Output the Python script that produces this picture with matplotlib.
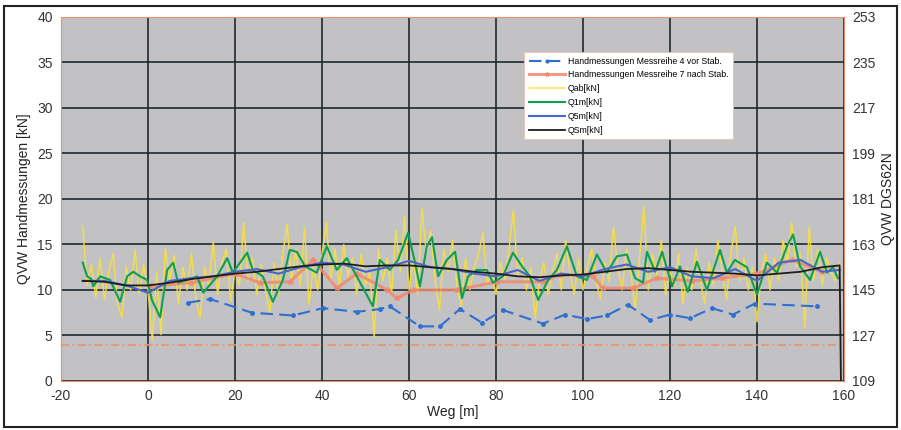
import numpy as np
import matplotlib.pyplot as plt
from matplotlib.patches import Rectangle

plt.rcParams["font.family"] = "Liberation Sans"
plt.rcParams["font.size"] = 10
plt.rcParams["axes.unicode_minus"] = False

# Handmessungen Messreihe 4 vor Stab.
hm4_x = [9.2, 14.3, 23.9, 33.3, 40.2, 48.0, 53.3, 55.6, 62.5, 67.1, 71.7, 76.8, 81.6,
         90.8, 95.9, 100.9, 105.5, 110.3, 115.4, 120.0, 124.6, 129.7, 134.5, 139.5, 153.8]
hm4_y = [8.6, 9.0, 7.5, 7.2, 8.0, 7.6, 7.9, 8.2, 6.0, 6.0, 7.9, 6.4, 7.8,
         6.3, 7.3, 6.8, 7.2, 8.4, 6.7, 7.3, 6.9, 8.0, 7.3, 8.5, 8.2]

# Handmessungen Messreihe 7 nach Stab.
hm7_x = [0.5, 10.0, 20.0, 25.7, 32.6, 38.0, 43.4, 48.0, 55.0, 57.2, 61.0, 71.0, 80.2,
         90.8, 94.7, 102.3, 104.6, 111.5, 117.0, 125.0, 132.0, 140.0, 148.0, 155.0]
hm7_y = [10.4, 10.8, 11.8, 10.8, 10.9, 13.3, 10.2, 11.8, 10.0, 9.1, 10.0, 10.0, 10.9,
         10.9, 11.7, 11.5, 10.2, 10.2, 11.3, 11.0, 11.3, 11.8, 13.3, 12.0]

# Grenzwert-Linie
grenz_x = [-20, 160]
grenz_y = [4.0, 4.0]

# Qab[kN], 1 m Raster ab -15 m
qab_x = np.arange(-15, 160, 1)
qab_y = [17.0, 10.5, 12.8, 9.2, 13.5, 9.0, 12.0, 14.0, 8.5, 7.0,
         12.5, 10.0, 14.4, 9.5, 12.8, 10.0, 4.5, 12.0, 5.1, 14.6,
         11.0, 13.8, 8.5, 12.5, 10.0, 14.0, 9.0, 6.9, 12.5, 10.5,
         15.3, 9.5, 13.0, 14.5, 8.8, 12.0, 10.5, 17.4, 11.0, 13.5,
         9.5, 12.8, 10.0, 7.5, 13.0, 9.5, 14.0, 17.2, 11.0, 14.5,
         10.5, 16.9, 8.4, 12.5, 10.0, 14.0, 17.5, 11.0, 14.5, 10.5,
         15.0, 11.5, 13.5, 9.5, 14.0, 10.5, 12.0, 4.8, 14.5, 11.0,
         13.5, 9.5, 16.6, 12.0, 18.1, 10.0, 13.5, 9.5, 19.0, 14.0,
         16.5, 11.0, 7.8, 14.5, 12.0, 15.5, 10.5, 8.0, 13.5, 10.0,
         12.5, 14.0, 16.3, 10.5, 12.0, 9.5, 13.0, 11.0, 14.5, 18.8,
         11.5, 13.5, 10.0, 12.5, 6.9, 11.0, 13.0, 9.5, 12.0, 14.0,
         10.0, 15.5, 12.0, 9.5, 13.5, 10.0, 12.5, 14.5, 11.0, 9.0,
         13.0, 11.0, 16.9, 12.5, 10.0, 14.5, 12.0, 7.8, 13.5, 19.2,
         10.0, 14.0, 11.5, 15.5, 9.5, 12.0, 10.5, 14.0, 8.5, 12.5,
         10.0, 14.5, 11.0, 8.5, 13.0, 10.5, 15.5, 12.0, 9.0, 14.0,
         17.0, 11.0, 13.5, 10.0, 12.5, 6.5, 12.0, 14.0, 10.0, 13.5,
         11.0, 15.5, 13.0, 17.4, 12.5, 14.0, 5.9, 16.9, 11.0, 14.5,
         10.5, 13.5, 12.0, 11.0, 13.0]

# Q1m[kN]
q1_x = [-15, -14, -13, -12.6, -11, -8.7, -6.4, -4.8, -3.4, -1.8, -0.2, 0.9, 2.8, 4.4, 5.8,
        6.9, 9.0, 11.3, 12.7, 15.9, 18.2, 19.5, 22.8, 24.1, 26.4, 28.7, 31.0, 32.6, 34.2,
        36.1, 38.8, 41.1, 43.4, 45.7, 48.0, 51.7, 53.3, 55.6, 57.5, 59.8, 61.4, 62.5, 64.1,
        65.3, 66.7, 68.7, 70.6, 72.2, 73.6, 75.6, 77.9, 79.3, 81.6, 83.9, 86.0, 87.8, 89.7,
        92.0, 94.0, 96.3, 98.6, 100.9, 103.2, 105.5, 107.8, 110.1, 112.0, 113.8, 114.7,
        116.6, 118.2, 120.5, 122.3, 124.1, 126.2, 128.5, 131.5, 133.1, 134.9, 137.7, 140.0,
        142.3, 144.6, 146.9, 148.3, 149.9, 152.2, 154.5, 156.1, 157.5, 158.6]
q1_y = [13.0, 11.5, 11.2, 10.4, 11.5, 11.1, 8.7, 11.5, 12.0, 11.5, 11.1, 8.9, 7.0, 12.2, 13.0,
        10.8, 11.1, 11.5, 9.7, 11.5, 13.5, 11.9, 14.1, 12.2, 11.5, 8.7, 11.1, 14.4, 14.2,
        12.6, 11.9, 14.8, 12.2, 13.5, 11.5, 8.2, 13.3, 12.2, 13.3, 16.3, 13.0, 10.4, 14.8,
        15.8, 11.5, 13.3, 14.2, 9.1, 11.5, 12.2, 12.2, 10.8, 11.5, 14.1, 12.6, 11.5, 8.9,
        11.1, 12.2, 14.8, 11.5, 11.1, 13.9, 11.9, 13.7, 13.9, 11.3, 10.8, 14.2,
        12.0, 14.2, 10.4, 12.6, 9.8, 13.1, 10.0, 14.4, 11.9, 13.3, 12.5, 9.5,
        13.0, 11.9, 14.8, 16.1, 12.6, 11.1, 14.2, 11.9, 12.5, 11.3]

# Q5m[kN]
q5_x = [-15, -10, -5, 0, 5, 10, 15, 20, 25, 30, 35, 40, 45, 50, 55, 60, 65, 70, 75, 80, 85,
        90, 95, 100, 105, 110, 115, 120, 125, 130, 135, 140, 145, 150, 155, 159]
q5_y = [11.0, 11.0, 10.5, 9.7, 11.0, 11.3, 11.5, 12.0, 12.3, 11.8, 12.5, 13.0, 12.8, 12.0,
        12.5, 13.2, 12.5, 12.3, 11.8, 11.5, 12.2, 11.0, 11.8, 11.5, 12.3, 12.8, 12.0, 12.5,
        11.5, 11.3, 12.3, 11.0, 13.0, 13.3, 12.0, 12.2]

# QSm[kN]
qs_x = [-15, -10, -5, 0, 5, 10, 15, 20, 25, 30, 35, 40, 45, 50, 55, 60, 65, 70, 75, 80, 85,
        90, 95, 100, 105, 110, 115, 120, 125, 130, 135, 140, 145, 150, 155, 159, 159.3]
qs_y = [11.0, 10.9, 10.5, 10.5, 10.8, 11.2, 11.5, 11.8, 12.0, 12.3, 12.6, 12.8, 12.9, 12.6,
        12.7, 12.7, 12.5, 12.3, 12.0, 11.8, 11.5, 11.4, 11.6, 11.7, 12.0, 12.3, 12.4, 12.2,
        12.0, 11.9, 11.8, 11.6, 11.8, 12.0, 12.5, 12.7, 0.0]

left_ticks = np.arange(0, 41, 5)
right_ticks = np.arange(109, 254, 18)
x_ticks = np.arange(-20, 161, 20)

fig = plt.figure(figsize=(9.01, 4.30), dpi=100)
ax = fig.add_axes([0.0677, 0.114, 0.869, 0.8465])
ax.set_facecolor("#c2c2c4")

grid_c = "#1c2a30"
for xv in x_ticks:
    ax.axvline(xv, color=grid_c, lw=1.2, zorder=1)
for yv in left_ticks:
    ax.axhline(yv, color=grid_c, lw=1.2, zorder=1)

ax.plot(grenz_x, grenz_y, color="#f0906c", lw=1.2, ls=(0, (5, 2, 1, 2)), zorder=2)
ax.plot(qab_x, qab_y, color="#f6e040", lw=1.1, alpha=0.9, zorder=3, label="Qab[kN]")
ax.plot(hm7_x, hm7_y, color="#f08a6c", lw=2.2, alpha=0.85, marker="*", ms=4,
        zorder=4, label="Handmessungen Messreihe 7 nach Stab.")
ax.plot(q1_x, q1_y, color="#0ea050", lw=1.5, zorder=5, label="Q1m[kN]")
ax.plot(q5_x, q5_y, color="#4a66c8", lw=1.5, zorder=6, label="Q5m[kN]")
ax.plot(qs_x, qs_y, color="#1e1e1e", lw=1.3, zorder=7, label="QSm[kN]")
ax.plot(hm4_x, hm4_y, color="#2f6fd0", lw=1.5, ls=(0, (6, 3)), marker="o", ms=2.5,
        zorder=8, label="Handmessungen Messreihe 4 vor Stab.")

ax.set_xlim(-20, 160)
ax.set_ylim(0, 40)
ax.set_xticks(x_ticks)
ax.set_yticks(left_ticks)
ax.tick_params(length=0, colors="#333333", pad=6)
for sp in ax.spines.values():
    sp.set_color("#e8906c")
    sp.set_linewidth(0.8)
ax.set_xlabel("Weg [m]", color="#222222", labelpad=1)
ax.set_ylabel("QVW Handmessungen [kN]", color="#222222", labelpad=4)

ax2 = ax.twinx()
ax2.set_ylim(109, 253)
ax2.set_yticks(right_ticks)
ax2.tick_params(length=0, colors="#333333", pad=6)
for sp in ax2.spines.values():
    sp.set_visible(False)
ax2.set_ylabel("QVW DGS62N", color="#222222", labelpad=4)

handles, labels = ax.get_legend_handles_labels()
order = [labels.index("Handmessungen Messreihe 4 vor Stab."),
         labels.index("Handmessungen Messreihe 7 nach Stab."),
         labels.index("Qab[kN]"), labels.index("Q1m[kN]"),
         labels.index("Q5m[kN]"), labels.index("QSm[kN]")]
leg = ax2.legend([handles[i] for i in order], [labels[i] for i in order],
                 loc="upper left", bbox_to_anchor=(0.586, 0.915), fontsize=6.3,
                 frameon=True, fancybox=False, framealpha=1, edgecolor="#f0c0b0",
                 handlelength=4.2, handletextpad=0.3, labelspacing=0.55,
                 borderpad=0.5, markerscale=0.8)
leg.get_frame().set_linewidth(0.6)

fig.patches.append(Rectangle((4 / 901, 3 / 430), 893 / 901, 421 / 430, fill=False,
                             edgecolor="#222222", lw=1.5, transform=fig.transFigure))

plt.savefig("out.png", dpi=100)
